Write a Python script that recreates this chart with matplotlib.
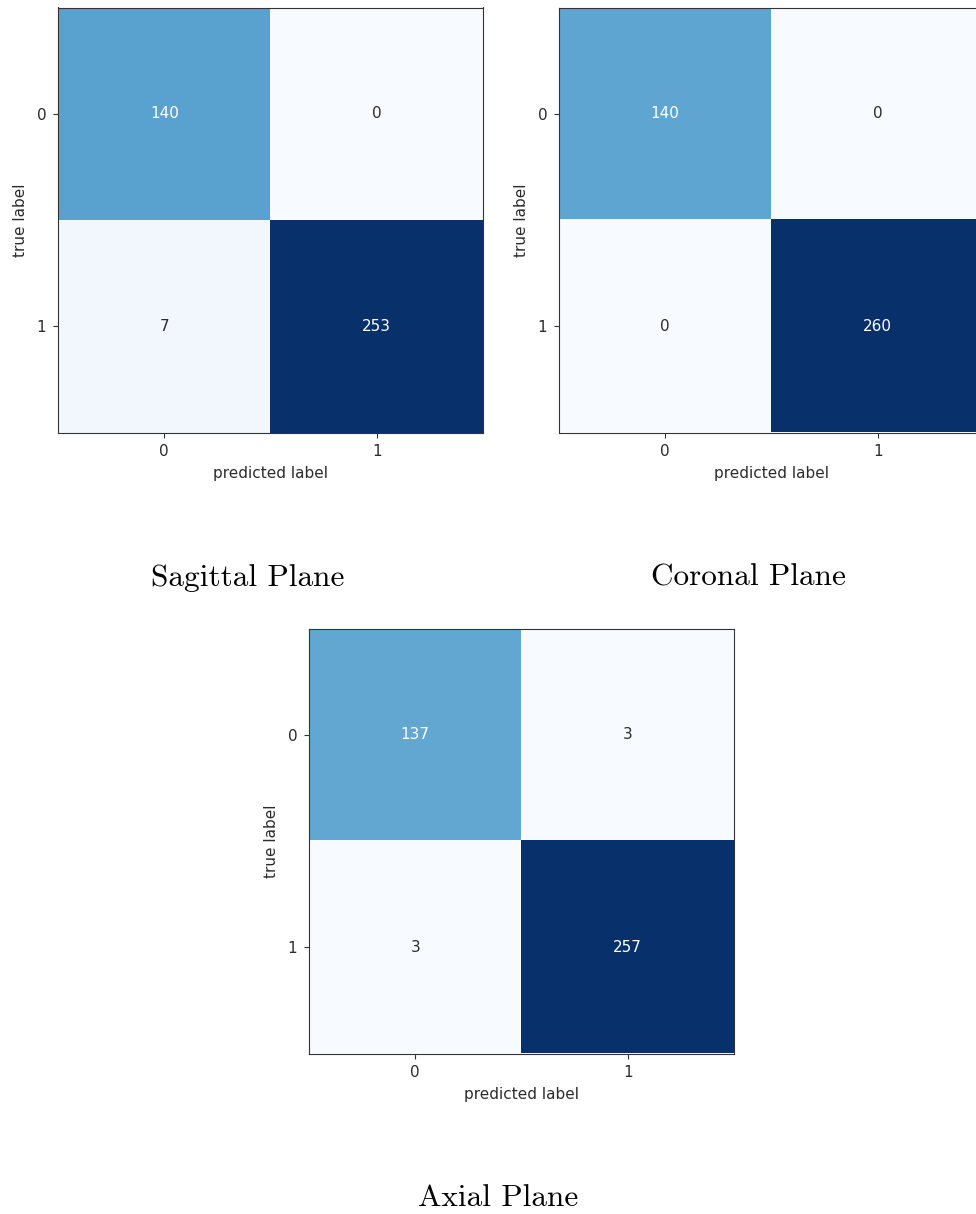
import numpy as np
import matplotlib
matplotlib.use("Agg")
import matplotlib.pyplot as plt

# Confusion matrices (rows: true label, cols: predicted label)
class_labels = ["0", "1"]
sagittal_cm = [[140, 0], [7, 253]]
coronal_cm = [[140, 0], [0, 260]]
axial_cm = [[137, 3], [3, 257]]
plane_names = ["Sagittal Plane", "Coronal Plane", "Axial Plane"]

W, H = 976, 1214
fig = plt.figure(figsize=(W / 100, H / 100), dpi=100)
plt.rcParams["font.size"] = 11
text_col = "#2b2b2b"


def draw_cm(ax, cm):
    cm = np.asarray(cm)
    ax.imshow(cm, cmap=plt.cm.Blues, interpolation="nearest")
    thresh = cm.max() / 2.0
    for i in range(cm.shape[0]):
        for j in range(cm.shape[1]):
            ax.text(j, i, str(cm[i, j]), ha="center", va="center",
                    color="white" if cm[i, j] > thresh else text_col,
                    fontsize=11)
    ax.set_xticks(range(len(class_labels)))
    ax.set_yticks(range(len(class_labels)))
    ax.set_xticklabels(class_labels)
    ax.set_yticklabels(class_labels)
    ax.tick_params(labelsize=11, labelcolor=text_col, color="#333333", pad=5)
    ax.set_xlabel("predicted label", color=text_col, fontsize=11, labelpad=5)
    ax.set_ylabel("true label", color=text_col, fontsize=11, labelpad=6)
    for s in ax.spines.values():
        s.set_color("#333333")


def px_axes(x0, y0, w, h):
    return fig.add_axes([x0 / W, 1 - (y0 + h) / H, w / W, h / H])


ax1 = px_axes(58, 7, 425, 426)
draw_cm(ax1, sagittal_cm)
ax2 = px_axes(559, 7, 425, 426)
draw_cm(ax2, coronal_cm)
ax3 = px_axes(309, 628, 425, 426)
draw_cm(ax3, axial_cm)

cap_kw = dict(ha="center", va="center", fontsize=22.5, family="cmr10")
fig.text(248 / W, 1 - 578 / H, plane_names[0], **cap_kw)
fig.text(748 / W, 1 - 578 / H, plane_names[1], **cap_kw)
fig.text(498 / W, 1 - 1198 / H, plane_names[2], **cap_kw)

fig.savefig("out.png", dpi=100)
